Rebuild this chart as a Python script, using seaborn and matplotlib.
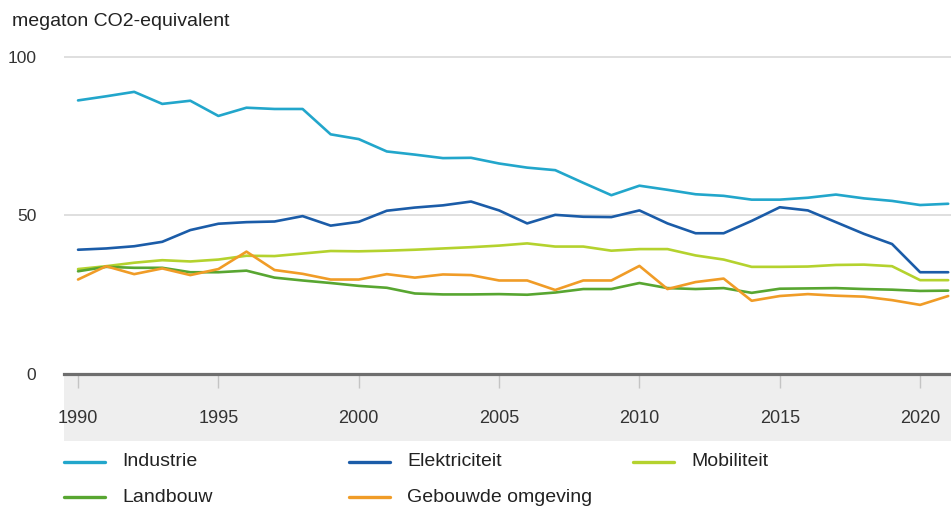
import matplotlib
matplotlib.use("Agg")
import matplotlib.pyplot as plt
from matplotlib.lines import Line2D
from matplotlib.patches import Rectangle
import seaborn as sns
import pandas as pd

years = list(range(1990, 2022))

industrie = [86.3, 87.6, 89.0, 85.2, 86.2, 81.4, 84.0, 83.6, 83.6, 75.6,
             74.1, 70.2, 69.2, 68.1, 68.2, 66.4, 65.1, 64.3, 60.3, 56.4,
             59.4, 58.1, 56.7, 56.2, 55.0, 55.0, 55.6, 56.6, 55.4, 54.6,
             53.3, 53.7]
elektriciteit = [39.2, 39.6, 40.3, 41.7, 45.4, 47.4, 47.9, 48.1, 49.8, 46.8,
                 48.0, 51.5, 52.5, 53.2, 54.4, 51.6, 47.5, 50.2, 49.6, 49.5,
                 51.6, 47.5, 44.4, 44.4, 48.3, 52.6, 51.6, 47.9, 44.2, 41.0,
                 32.1, 32.1]
mobiliteit = [33.1, 34.0, 35.1, 35.9, 35.5, 36.1, 37.3, 37.2, 38.0, 38.8,
              38.7, 38.9, 39.2, 39.6, 40.0, 40.5, 41.2, 40.2, 40.2, 38.9,
              39.4, 39.4, 37.4, 36.1, 33.8, 33.8, 33.9, 34.4, 34.5, 34.0,
              29.6, 29.6]
landbouw = [32.4, 33.8, 33.5, 33.5, 32.1, 32.1, 32.6, 30.4, 29.5, 28.7,
            27.8, 27.2, 25.4, 25.1, 25.1, 25.2, 25.0, 25.7, 26.8, 26.8,
            28.7, 27.1, 26.8, 27.1, 25.6, 26.9, 27.0, 27.1, 26.8, 26.6,
            26.2, 26.3]
gebouwde_omgeving = [29.8, 34.0, 31.5, 33.3, 31.2, 33.1, 38.6, 32.8, 31.6, 29.8,
                     29.8, 31.5, 30.4, 31.4, 31.2, 29.5, 29.5, 26.5, 29.5, 29.5,
                     34.1, 26.8, 29.0, 30.1, 23.1, 24.6, 25.2, 24.7, 24.4, 23.3,
                     21.8, 24.6]

sectors = ["Industrie", "Elektriciteit", "Mobiliteit", "Landbouw", "Gebouwde omgeving"]
series = [industrie, elektriciteit, mobiliteit, landbouw, gebouwde_omgeving]
colors = ["#22a6cb", "#1b5ca8", "#b4d22e", "#58a631", "#f09c27"]

y_ticks = [0, 50, 100]
x_ticks = [1990, 1995, 2000, 2005, 2010, 2015, 2020]
unit_label = "megaton CO2-equivalent"

df = pd.DataFrame({
    "jaar": years * len(sectors),
    "waarde": [v for s in series for v in s],
    "sector": [name for name in sectors for _ in years],
})

sns.set_theme(style="white")
plt.rcParams["font.family"] = ["Liberation Sans", "DejaVu Sans"]

W, H = 951, 509
fig = plt.figure(figsize=(W / 100, H / 100), dpi=100)


def fx(px):
    return px / W


def fy(py):
    return 1 - py / H


ax_top = 55.4
ax_bottom = 374
ax = fig.add_axes([fx(64), fy(ax_bottom), 1 - fx(64), (ax_bottom - ax_top) / H])

sns.lineplot(data=df, x="jaar", y="waarde", hue="sector", hue_order=sectors,
             palette=dict(zip(sectors, colors)), linewidth=1.9, legend=False, ax=ax,
             zorder=3)

ax.set_xlim(1989.5, 2021.1)
ax.set_ylim(0, 100.5)
ax.set_xticks(x_ticks)
ax.set_yticks(y_ticks)
ax.set_xlabel("")
ax.set_ylabel("")

for side in ["top", "right", "left"]:
    ax.spines[side].set_visible(False)
ax.spines["bottom"].set_color("#6e6e6e")
ax.spines["bottom"].set_linewidth(2.3)
ax.spines["bottom"].set_zorder(4)

ax.grid(axis="y", color="#d6d6d6", linewidth=1.1)
ax.grid(axis="x", visible=False)

ax.tick_params(axis="y", length=0, pad=20, labelsize=12.5, labelcolor="#333333")
ax.tick_params(axis="x", direction="out", length=10, width=1, color="#c4c4c4",
               pad=16, labelsize=13, labelcolor="#333333", bottom=True)

# shaded band behind the year axis
fig.add_artist(Rectangle((fx(64), fy(441)), 1 - fx(64), fy(ax_bottom) - fy(441),
                         transform=fig.transFigure, facecolor="#eeeeee",
                         edgecolor="none", zorder=-1))

fig.text(fx(12), fy(21.5), unit_label, fontsize=14, color="#222222",
         ha="left", va="center")

# legend laid out in three columns
legend_slots = [(64, 462), (349, 462), (633, 462), (64, 497), (349, 497)]
for name, color, (lx, ly) in zip(sectors, colors, legend_slots):
    fig.add_artist(Line2D([fx(lx), fx(lx + 41)], [fy(ly), fy(ly)],
                          transform=fig.transFigure, color=color, linewidth=2.4))
    fig.text(fx(lx + 58), fy(ly), name, fontsize=14, color="#222222",
             ha="left", va="center")

fig.savefig("out.png", dpi=100)
